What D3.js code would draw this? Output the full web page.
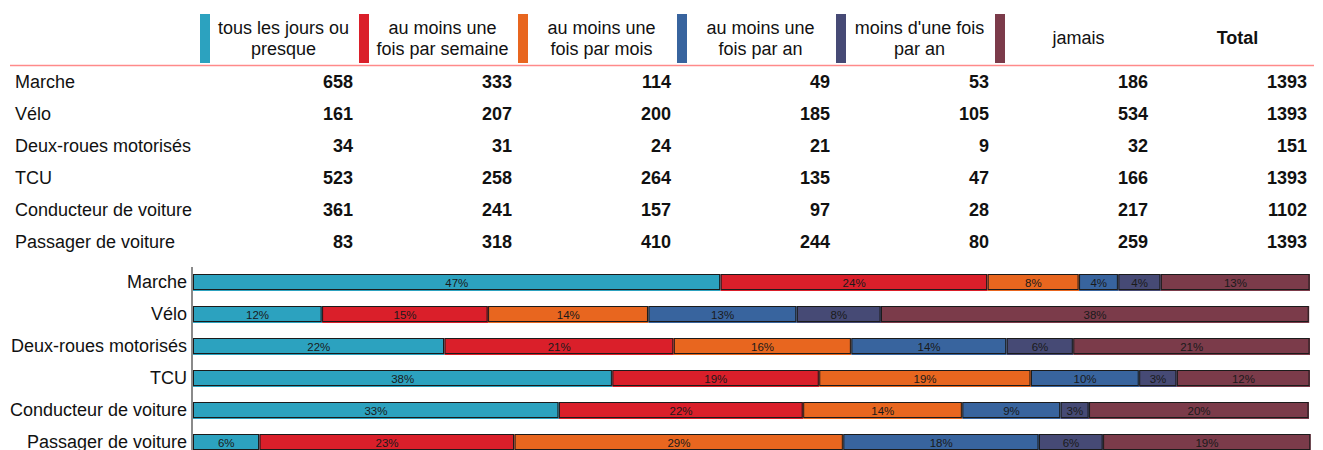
<!DOCTYPE html>
<html>
<head>
<meta charset="utf-8">
<script src="https://cdn.jsdelivr.net/npm/d3@7"></script>
<style>
body{margin:0;background:#fff}
svg{font-family:"Liberation Sans",Arial,sans-serif;display:block}
</style>
</head>
<body>
<div id="chart"></div>
<script>

// data
var modes = ["Marche","Vélo","Deux-roues motorisés","TCU","Conducteur de voiture","Passager de voiture"]
var freqLabels = [["tous les jours ou","presque"],["au moins une","fois par semaine"],["au moins une","fois par mois"],["au moins une","fois par an"],["moins d'une fois","par an"],["jamais"]]
var colors = ["#2ca2bf","#da1f2a","#e8661f","#38649e","#464a75","#7b3b4a"]

var tousLesJours = [658,161,34,523,361,83]
var parSemaine   = [333,207,31,258,241,318]
var parMois      = [114,200,24,264,157,410]
var parAn        = [49,185,21,135,97,244]
var moinsParAn   = [53,105,9,47,28,80]
var jamais       = [186,534,32,166,217,259]
var totals       = [1393,1393,151,1393,1102,1393]

// percent labels as printed on the bars
var pctTous    = [47,12,22,38,33,6]
var pctSemaine = [24,15,21,19,22,23]
var pctMois    = [8,14,16,19,14,29]
var pctAn      = [4,13,14,10,9,18]
var pctMoins   = [4,8,6,3,3,6]
var pctJamais  = [13,38,21,12,20,19]

var series = [tousLesJours,parSemaine,parMois,parAn,moinsParAn,jamais]
var pcts = [pctTous,pctSemaine,pctMois,pctAn,pctMoins,pctJamais]

var w = 1323, h = 450

var svg = d3.select("#chart").append("svg").attr("width",w).attr("height",h)

// ---- table part ----
var colX = d3.scaleLinear().domain([0,6]).range([200,1154])
var rowY = d3.scalePoint().domain(modes).range([88,248])

// colour markers in header
svg.selectAll(".marker")
    .data(colors)
    .enter()
    .append("rect")
    .attr("class","marker")
    .attr("x",function(d,i){ return colX(i) })
    .attr("y",14)
    .attr("width",10)
    .attr("height",49)
    .attr("fill",function(d){ return d })

var heads = svg.selectAll(".head")
    .data(freqLabels)
    .enter()
    .append("text")
    .attr("class","head")
    .attr("text-anchor","middle")
    .style("font-size","18px")
    .attr("fill","#111")

heads.each(function(d,i){
    var t = d3.select(this)
    var cx = colX(i)+83.5
    if(d.length==1){
        t.append("tspan").attr("x",cx).attr("y",44).text(d[0])
    } else {
        t.append("tspan").attr("x",cx).attr("y",34).text(d[0])
        t.append("tspan").attr("x",cx).attr("y",55).text(d[1])
    }
})

svg.append("text")
    .attr("x",colX(6)+83.5)
    .attr("y",44)
    .attr("text-anchor","middle")
    .style("font-size","18px")
    .style("font-weight","bold")
    .attr("fill","#111")
    .text("Total")

svg.append("line")
    .attr("x1",10).attr("x2",1314)
    .attr("y1",65.5).attr("y2",65.5)
    .attr("stroke","#ff8a8a")
    .attr("stroke-width",1.5)

svg.selectAll(".rowlabel")
    .data(modes)
    .enter()
    .append("text")
    .attr("class","rowlabel")
    .attr("x",15)
    .attr("y",function(d){ return rowY(d) })
    .style("font-size","18px")
    .attr("fill","#111")
    .text(function(d){ return d })

var columns = series.concat([totals])
columns.forEach(function(col,ci){
    svg.selectAll(".val"+ci)
        .data(col)
        .enter()
        .append("text")
        .attr("class","val"+ci)
        .attr("x",colX(ci)+153)
        .attr("y",function(d,i){ return rowY(modes[i]) })
        .attr("text-anchor","end")
        .style("font-size","18px")
        .style("font-weight","bold")
        .attr("fill","#111")
        .text(function(d){ return d })
})

// ---- stacked bars ----
var xScale = d3.scaleLinear().domain([0,1]).range([193,1310])
var yScale = d3.scaleBand().domain(modes).range([266.5,458.5]).paddingInner(0.46875).paddingOuter(0.234375)

var rows = modes.map(function(m,i){
    var obj = {mode:m,total:totals[i]}
    series.forEach(function(s,k){ obj["f"+k] = s[i]/totals[i] })
    return obj
})
var keys = d3.range(6).map(function(k){ return "f"+k })
var stacked = d3.stack().keys(keys)(rows)

stacked.forEach(function(layer,k){
    var g = svg.append("g")
    g.selectAll("rect.fill")
        .data(layer)
        .enter()
        .append("rect")
        .attr("class","fill")
        .attr("x",function(d){ return xScale(d[0]) })
        .attr("y",function(d){ return yScale(d.data.mode) })
        .attr("width",function(d){ return xScale(d[1])-xScale(d[0]) })
        .attr("height",yScale.bandwidth())
        .attr("fill",colors[k])
    g.selectAll("rect.edge")
        .data(layer)
        .enter()
        .append("rect")
        .attr("class","edge")
        .attr("x",function(d){ return xScale(d[0])+0.5 })
        .attr("y",function(d){ return yScale(d.data.mode)+0.5 })
        .attr("width",function(d){ return Math.max(0,xScale(d[1])-xScale(d[0])-1.5) })
        .attr("height",yScale.bandwidth()-2)
        .attr("fill","none")
        .attr("stroke","#1b1b1b")
        .attr("stroke-width",1)
    g.selectAll("text")
        .data(layer)
        .enter()
        .append("text")
        .attr("x",function(d){ return (xScale(d[0])+xScale(d[1]))/2 })
        .attr("y",function(d){ return yScale(d.data.mode)+yScale.bandwidth()/2 })
        .attr("dy","0.4em")
        .attr("text-anchor","middle")
        .style("font-size","11.5px")
        .attr("fill","#1a1a1a")
        .text(function(d,i){ return pcts[k][i]+"%" })
})

// category axis
svg.append("g")
    .attr("transform","translate(192,0)")
    .call(d3.axisLeft(yScale).tickSize(0).tickPadding(5))
    .call(function(g){
        g.select(".domain").attr("d","M0,267V450").attr("stroke","#8a8a8a").attr("stroke-width",2)
        g.selectAll("text").style("font-size","18px").attr("fill","#111").attr("font-family","Liberation Sans, Arial, sans-serif")
    })

</script>
</body>
</html>
